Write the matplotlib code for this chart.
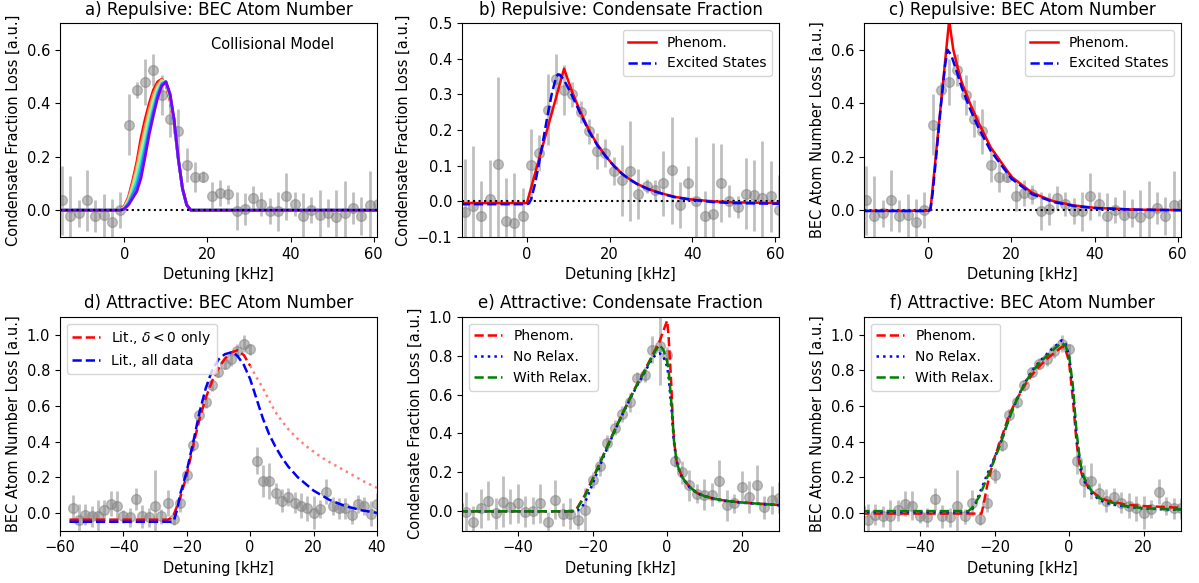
import numpy as np
import matplotlib
matplotlib.use("Agg")
import matplotlib.pyplot as plt

# ---- measured points (x in kHz) ----
rep_x = [-15, -13, -11, -9, -7, -5, -3, -1, 1, 3, 5, 7, 9, 11, 13, 15, 17, 19, 21, 23,
         25, 27, 29, 31, 33, 35, 37, 39, 41, 43, 45, 47, 49, 51, 53, 55, 57, 59, 61]
rep_n_y = [0.037, -0.022, -0.012, 0.037, -0.022, -0.019, -0.044, 0.0, 0.32, 0.45,
           0.48, 0.525, 0.43, 0.342, 0.295, 0.17, 0.125, 0.125, 0.052, 0.065,
           0.06, -0.002, 0.006, 0.045, 0.022, -0.002, -0.004, 0.052, 0.022, -0.022,
           0.002, -0.019, -0.01, -0.025, -0.012, 0.01, -0.022, 0.018, 0.025]
rep_n_err = [0.13, 0.15, 0.05, 0.115, 0.06, 0.08, 0.087, 0.068, 0.114, 0.03,
             0.085, 0.06, 0.075, 0.07, 0.085, 0.063, 0.056, 0.02, 0.054, 0.048,
             0.035, 0.072, 0.06, 0.045, 0.045, 0.048, 0.072, 0.088, 0.045, 0.087,
             0.048, 0.093, 0.053, 0.1, 0.12, 0.06, 0.07, 0.13, 0.12]
rep_f_y = [-0.03, -0.014, -0.042, 0.007, 0.105, -0.056, -0.061, -0.042, 0.103, 0.135,
           0.257, 0.342, 0.311, 0.3, 0.25, 0.196, 0.141, 0.136, 0.085, 0.059,
           0.085, 0.02, 0.042, 0.031, 0.05, 0.087, -0.011, 0.05, 0.001, -0.042,
           -0.036, 0.051, 0.001, -0.016, 0.021, 0.017, 0.01, 0.014, -0.025]
rep_f_err = [0.15, 0.17, 0.1, 0.11, 0.245, 0.12, 0.14, 0.08, 0.1, 0.05,
             0.1, 0.07, 0.07, 0.035, 0.03, 0.035, 0.05, 0.04, 0.04, 0.1,
             0.14, 0.07, 0.02, 0.03, 0.09, 0.15, 0.065, 0.05, 0.18, 0.07,
             0.2, 0.11, 0.045, 0.03, 0.1, 0.1, 0.16, 0.1, 0.1]

attr_n_x = [-56, -54, -52, -50, -48, -46, -44, -42, -40, -38, -36, -34, -32, -30, -28,
            -26, -24, -22, -20, -18, -16, -14, -12, -10, -8, -6, -4, -2, 0, 2, 4, 6,
            8, 10, 12, 14, 16, 18, 20, 22, 24, 26, 28, 30, 32, 34, 36, 38, 40]
attr_n_y = [0.028, -0.04, -0.01, -0.02, -0.015, 0.015, 0.052, 0.04, -0.02, -0.025,
            0.078, -0.02, -0.025, 0.04, -0.02, 0.055, -0.037, 0.055, 0.21, 0.379,
            0.55, 0.62, 0.715, 0.79, 0.836, 0.864, 0.91, 0.95, 0.917, 0.292,
            0.18, 0.18, 0.11, 0.068, 0.09, 0.058, 0.04, 0.026, 0.002, 0.02,
            0.118, 0.04, 0.025, 0.026, -0.012, 0.05, 0.04, -0.005, 0.05]
attr_n_err = [0.075, 0.09, 0.06, 0.06, 0.09, 0.06, 0.07, 0.08, 0.035, 0.055,
              0.06, 0.065, 0.055, 0.2, 0.04, 0.075, 0.03, 0.05, 0.04, 0.03,
              0.03, 0.03, 0.03, 0.03, 0.03, 0.04, 0.04, 0.05, 0.03, 0.075,
              0.09, 0.1, 0.06, 0.065, 0.05, 0.06, 0.07, 0.07, 0.09, 0.05,
              0.07, 0.05, 0.06, 0.06, 0.05, 0.05, 0.05, 0.07, 0.06]

attr_f_x = [-56, -54, -52, -50, -48, -46, -44, -42, -40, -38, -36, -34, -32, -30, -28,
            -26, -24, -22, -20, -18, -16, -14, -12, -10, -8, -6, -4, -2, 0, 2, 4, 6,
            8, 10, 12, 14, 16, 18, 20, 22, 24, 26, 28, 30]
attr_f_y = [0.03, -0.002, -0.053, 0.015, 0.055, -0.01, 0.05, 0.023, 0.04, -0.002,
            0.003, 0.04, -0.055, 0.06, -0.015, -0.012, -0.043, 0.008, 0.16, 0.233,
            0.352, 0.43, 0.5, 0.56, 0.685, 0.703, 0.83, 0.85, 0.803, 0.259,
            0.2, 0.134, 0.09, 0.086, 0.086, 0.156, 0.03, 0.04, 0.125, 0.073,
            0.137, 0.02, 0.058, 0.07]
attr_f_err = [0.1, 0.1, 0.08, 0.1, 0.1, 0.08, 0.13, 0.09, 0.1, 0.08,
              0.07, 0.1, 0.05, 0.1, 0.06, 0.08, 0.05, 0.11, 0.04, 0.05,
              0.04, 0.04, 0.04, 0.05, 0.03, 0.04, 0.07, 0.2, 0.04, 0.03,
              0.06, 0.08, 0.05, 0.08, 0.06, 0.11, 0.08, 0.05, 0.08, 0.08,
              0.1, 0.06, 0.07, 0.08]

# ---- model curves ----
# a) collisional model, family of curves red -> violet
a_x = [-16, -2, -1, 0, 1, 2, 3, 4, 5, 6, 7, 8, 9, 10, 11, 12, 13, 14, 15, 16, 62]
a_curves = [
    [0, 0, 0.002, 0.015, 0.05, 0.11, 0.18, 0.27, 0.34, 0.40, 0.45, 0.48, 0.49, 0.47, 0.41, 0.32, 0.19, 0.08, 0.02, 0, 0],
    [0, 0, 0.002, 0.013, 0.045, 0.1, 0.165, 0.245, 0.315, 0.38, 0.435, 0.47, 0.488, 0.474, 0.415, 0.322, 0.19, 0.08, 0.02, 0, 0],
    [0, 0, 0.001, 0.011, 0.04, 0.088, 0.148, 0.222, 0.292, 0.36, 0.418, 0.46, 0.485, 0.477, 0.42, 0.325, 0.19, 0.08, 0.02, 0, 0],
    [0, 0, 0.001, 0.009, 0.034, 0.076, 0.13, 0.2, 0.27, 0.34, 0.4, 0.45, 0.48, 0.479, 0.424, 0.328, 0.19, 0.08, 0.02, 0, 0],
    [0, 0, 0, 0.007, 0.029, 0.066, 0.11, 0.175, 0.245, 0.32, 0.385, 0.44, 0.475, 0.48, 0.428, 0.33, 0.19, 0.08, 0.02, 0, 0],
    [0, 0, 0, 0.006, 0.024, 0.057, 0.09, 0.148, 0.225, 0.3, 0.37, 0.43, 0.47, 0.481, 0.432, 0.333, 0.19, 0.08, 0.02, 0, 0],
    [0, 0, 0, 0.005, 0.02, 0.045, 0.07, 0.12, 0.2, 0.285, 0.355, 0.42, 0.465, 0.48, 0.435, 0.335, 0.19, 0.08, 0.02, 0, 0],
]

b_ph_x = [-16, 0, 9, 11, 13, 15, 17, 19, 21, 23, 25, 27, 30, 33, 36, 40, 45, 50, 62]
b_ph_y = [-0.005, -0.005, 0.372, 0.305, 0.25, 0.2, 0.16, 0.128, 0.1, 0.078, 0.061,
          0.047, 0.032, 0.021, 0.012, 0.005, 0.0, -0.003, -0.005]
b_ex_x = [-16, 0, 0.5, 1, 2, 3, 4, 5, 6, 7, 7.5, 8, 9, 10, 11, 13, 15, 17, 19, 21,
          23, 25, 27, 30, 33, 36, 40, 45, 50, 62]
b_ex_y = [-0.008, -0.008, -0.006, 0.005, 0.05, 0.11, 0.175, 0.24, 0.3, 0.345, 0.356,
          0.355, 0.34, 0.318, 0.295, 0.245, 0.197, 0.158, 0.127, 0.1, 0.077, 0.06,
          0.046, 0.031, 0.02, 0.011, 0.004, -0.002, -0.005, -0.007]

c_ph_x = [-16, 0, 0.5, 5, 6, 7, 8, 10, 12, 15, 20, 25, 30, 35, 40, 50, 62]
c_ph_y = [-0.002, -0.002, 0.0, 0.71, 0.6, 0.535, 0.48, 0.4, 0.33, 0.235, 0.125,
          0.065, 0.034, 0.018, 0.009, 0.002, 0.0]
c_ex_x = [-16, 0, 0.5, 1, 2, 3, 4, 4.6, 5.5, 7, 8, 10, 12, 15, 20, 25, 30, 35, 40, 50, 62]
c_ex_y = [-0.003, -0.003, 0.005, 0.06, 0.22, 0.39, 0.54, 0.6, 0.58, 0.51, 0.46, 0.38,
          0.31, 0.222, 0.118, 0.06, 0.031, 0.016, 0.008, 0.002, 0.0]

d_red_x = [-57, -26, -25, -24, -23, -22, -21, -20, -18, -16, -14, -12, -10, -8, -6, -4, -2, 0]
d_red_y = [-0.038, -0.038, -0.03, -0.005, 0.04, 0.09, 0.15, 0.215, 0.375, 0.525, 0.645,
           0.74, 0.81, 0.865, 0.9, 0.912, 0.885, 0.825]
d_ext_x = [0, 2, 4, 6, 8, 10, 12, 15, 18, 21, 24, 27, 30, 33, 36, 40]
d_ext_y = [0.825, 0.76, 0.7, 0.63, 0.565, 0.515, 0.47, 0.415, 0.37, 0.33, 0.295,
           0.265, 0.235, 0.205, 0.175, 0.14]
d_blue_x = [-57, -24.5, -24, -23, -22, -21, -20, -18, -16, -14, -12, -10, -8, -6, -5,
            -4, -2, 0, 2, 4, 6, 8, 10, 12, 15, 20, 25, 30, 35, 40]
d_blue_y = [-0.05, -0.05, -0.04, 0.02, 0.11, 0.17, 0.235, 0.394, 0.563, 0.7, 0.8, 0.86,
            0.89, 0.9, 0.895, 0.88, 0.83, 0.75, 0.64, 0.53, 0.44, 0.37, 0.31, 0.26,
            0.2, 0.125, 0.073, 0.038, 0.015, 0.0]

e_ph_x = [-56, -25.5, -25, -24, -22, -20, -18, -16, -14, -12, -10, -8, -6, -4, -2, 0,
          0.4, 1.1, 1.6, 2, 2.5, 3, 4, 5, 6, 8, 10, 13, 16, 20, 25, 30]
e_ph_y = [0, 0, 0.003, 0.02, 0.085, 0.165, 0.25, 0.335, 0.42, 0.5, 0.58, 0.655, 0.725,
          0.8, 0.875, 0.98, 0.9, 0.66, 0.43, 0.34, 0.265, 0.225, 0.177, 0.15, 0.126,
          0.094, 0.078, 0.063, 0.053, 0.045, 0.038, 0.032]
e_wr_x = [-56, -25.5, -25, -24, -22, -20, -18, -16, -14, -12, -10, -8, -6, -4, -3, -2,
          -1, 0, 0.4, 1.3, 1.8, 2.5, 3, 4, 5, 6, 8, 10, 13, 16, 20, 25, 30]
e_wr_y = [0, 0, 0.003, 0.018, 0.08, 0.162, 0.248, 0.333, 0.418, 0.5, 0.578, 0.652,
          0.72, 0.795, 0.83, 0.855, 0.83, 0.77, 0.73, 0.52, 0.37, 0.262, 0.225, 0.177,
          0.15, 0.126, 0.094, 0.078, 0.063, 0.053, 0.045, 0.038, 0.032]
e_nr_x = [-56, -24.5, -24, -23, -22, -20, -18, -16, -14, -12, -10, -8, -6, -4, -3, -2,
          -1, 0, 0.4, 1.3, 1.8, 2.5, 3, 4, 5, 6, 8, 10, 13, 16, 20, 25, 30]
e_nr_y = [0, 0, 0.004, 0.02, 0.045, 0.14, 0.235, 0.328, 0.415, 0.497, 0.575, 0.648,
          0.715, 0.785, 0.805, 0.812, 0.795, 0.745, 0.69, 0.5, 0.36, 0.26, 0.222,
          0.175, 0.148, 0.124, 0.093, 0.077, 0.062, 0.052, 0.044, 0.037, 0.031]

f_ph_x = [-56, -23.5, -23, -22, -21, -20, -18, -16, -14, -12, -10, -8, -6, -4, -2,
          -1.5, -1, 0, 1, 2, 3, 4, 6, 8, 10, 15, 20, 25, 30]
f_ph_y = [-0.004, -0.004, 0.04, 0.15, 0.235, 0.31, 0.43, 0.553, 0.638, 0.713, 0.773,
          0.822, 0.863, 0.897, 0.93, 0.935, 0.92, 0.845, 0.64, 0.394, 0.244, 0.178,
          0.122, 0.09, 0.071, 0.047, 0.038, 0.034, 0.028]
f_wr_x = [-56, -27, -26, -24, -22, -20, -18, -16, -14, -12, -10, -8, -6, -4, -2, -1,
          0, 1, 2, 3, 4, 6, 8, 10, 15, 20, 25, 30]
f_wr_y = [0.01, 0.01, 0.028, 0.094, 0.197, 0.3, 0.41, 0.535, 0.638, 0.722, 0.79, 0.84,
          0.88, 0.92, 0.953, 0.94, 0.88, 0.713, 0.45, 0.28, 0.197, 0.122, 0.084,
          0.066, 0.038, 0.026, 0.022, 0.019]
f_nr_x = [-56, -27, -26, -25, -24, -22, -20, -18, -16, -14, -12, -10, -8, -6, -4, -2,
          -1, 0, 1, 2, 3, 4, 6, 8, 10, 15, 20, 25, 30]
f_nr_y = [0.005, 0.005, 0.02, 0.056, 0.11, 0.215, 0.31, 0.415, 0.535, 0.638, 0.725,
          0.795, 0.848, 0.89, 0.93, 0.968, 0.95, 0.88, 0.7, 0.43, 0.265, 0.185, 0.11,
          0.075, 0.055, 0.035, 0.025, 0.02, 0.018]

LBL_FRAC = "Condensate Fraction Loss [a.u.]"
LBL_NUM = "BEC Atom Number Loss [a.u.]"
LW = 1.8


def _dados(ax, x, y, err):
    ax.errorbar(x, y, yerr=err, fmt="o", color="grey", alpha=0.5, ms=7,
                elinewidth=2, capsize=0, zorder=1)


def _eixos(ax, titulo, ylabel, xlim, ylim):
    ax.set_title(titulo, fontsize=12)
    ax.set_xlabel("Detuning [kHz]", fontsize=10.5)
    ax.set_ylabel(ylabel, fontsize=10.5)
    ax.set_xlim(*xlim)
    ax.set_ylim(*ylim)
    ax.tick_params(labelsize=10.5)


fig, axs = plt.subplots(2, 3, figsize=(11.99, 5.83), dpi=100)
fig.subplots_adjust(left=0.05, right=0.985, top=0.9605, bottom=0.0897,
                    wspace=0.268, hspace=0.373)

# a)
ax = axs[0, 0]
_dados(ax, rep_x, rep_n_y, rep_n_err)
cores = plt.cm.rainbow(np.linspace(1, 0, len(a_curves)))
for cy, cor in zip(a_curves, cores):
    ax.plot(a_x, cy, color=cor, lw=2)
ax.axhline(0, color="k", ls=":", lw=1.5)
ax.text(0.67, 0.9, "Collisional Model", transform=ax.transAxes, ha="center",
        va="center", fontsize=10.5)
_eixos(ax, "a) Repulsive: BEC Atom Number", LBL_FRAC, (-15.5, 60.8), (-0.1, 0.7))
ax.set_yticks([0.0, 0.2, 0.4, 0.6])

# b)
ax = axs[0, 1]
_dados(ax, rep_x, rep_f_y, rep_f_err)
ax.axhline(0, color="k", ls=":", lw=1.5)
ax.plot(b_ph_x, b_ph_y, "r-", lw=LW, label="Phenom.")
ax.plot(b_ex_x, b_ex_y, "b--", lw=LW, label="Excited States")
_eixos(ax, "b) Repulsive: Condensate Fraction", LBL_FRAC, (-15.7, 61), (-0.1, 0.5))
ax.legend(loc="upper right", fontsize=10)

# c)
ax = axs[0, 2]
_dados(ax, rep_x, rep_n_y, rep_n_err)
ax.axhline(0, color="k", ls=":", lw=1.5)
ax.plot(c_ph_x, c_ph_y, "r-", lw=LW, label="Phenom.")
ax.plot(c_ex_x, c_ex_y, "b--", lw=LW, label="Excited States")
_eixos(ax, "c) Repulsive: BEC Atom Number", LBL_NUM, (-15.5, 60.8), (-0.1, 0.7))
ax.set_yticks([0.0, 0.2, 0.4, 0.6])
ax.legend(loc="upper right", fontsize=10)

# d)
ax = axs[1, 0]
_dados(ax, attr_n_x, attr_n_y, attr_n_err)
ax.plot(d_red_x, d_red_y, "r--", lw=LW, label=r"Lit., $\delta < 0$ only")
ax.plot(d_ext_x, d_ext_y, "r:", lw=LW, alpha=0.5)
ax.plot(d_blue_x, d_blue_y, "b--", lw=LW, label="Lit., all data")
_eixos(ax, "d) Attractive: BEC Atom Number", LBL_NUM, (-60, 40), (-0.1, 1.1))
ax.legend(loc="upper left", fontsize=10)

# e)
ax = axs[1, 1]
_dados(ax, attr_f_x, attr_f_y, attr_f_err)
ax.plot(e_ph_x, e_ph_y, "r--", lw=LW, label="Phenom.")
ax.plot(e_nr_x, e_nr_y, "b:", lw=LW, label="No Relax.")
ax.plot(e_wr_x, e_wr_y, "g--", lw=LW, label="With Relax.")
_eixos(ax, "e) Attractive: Condensate Fraction", LBL_FRAC, (-55, 30), (-0.1, 1.0))
ax.legend(loc="upper left", fontsize=10)

# f)
ax = axs[1, 2]
_dados(ax, attr_n_x, attr_n_y, attr_n_err)
ax.plot(f_ph_x, f_ph_y, "r--", lw=LW, label="Phenom.")
ax.plot(f_nr_x, f_nr_y, "b:", lw=LW, label="No Relax.")
ax.plot(f_wr_x, f_wr_y, "g--", lw=LW, label="With Relax.")
_eixos(ax, "f) Attractive: BEC Atom Number", LBL_NUM, (-55, 30), (-0.1, 1.1))
ax.legend(loc="upper left", fontsize=10)

fig.savefig("out.png", dpi=100, facecolor="white")
